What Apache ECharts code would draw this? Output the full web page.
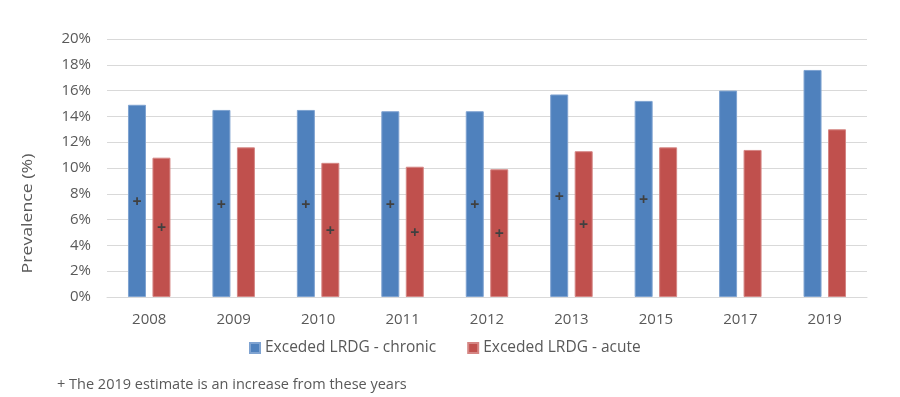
<!DOCTYPE html>
<html>
<head>
<meta charset="utf-8">
<script src="https://cdn.jsdelivr.net/npm/echarts@6/dist/echarts.min.js"></script>
<style>html,body{margin:0;padding:0;background:#fff}#c{width:900px;height:397px}</style>
</head>
<body>
<div id="c"></div>
<script>
const categories = ['2008','2009','2010','2011','2012','2013','2015','2017','2019'];
const chronic = [14.9, 14.5, 14.5, 14.4, 14.4, 15.7, 15.2, 16.0, 17.6];
const acute = [10.8, 11.6, 10.4, 10.1, 9.9, 11.3, 11.6, 11.4, 13.0];
const chronicPlus = [true, true, true, true, true, true, true, false, false];
const acutePlus = [true, false, true, true, true, true, false, false, false];
const yTicks = [0, 2, 4, 6, 8, 10, 12, 14, 16, 18, 20];
const seriesNames = ['Exceded LRDG - chronic', 'Exceded LRDG - acute'];
const footnote = '+ The 2019 estimate is an increase from these years';
const yName = 'Prevalence (%)';

const FONT = '"Open Sans", sans-serif';
const TXT = '#595959';

function withPlus(vals, flags) {
  return vals.map((v, i) => ({
    value: v,
    label: { show: flags[i], position: 'inside', offset: [0, 1.5], formatter: '+', color: '#404040', fontSize: 16, fontWeight: 'bold', fontFamily: FONT }
  }));
}

const chart = echarts.init(document.getElementById('c'), null, { renderer: 'canvas' });
chart.setOption({
  animation: false,
  textStyle: { fontFamily: FONT },
  grid: { left: 107, right: 33, top: 39, bottom: 100 },
  legend: {
    data: seriesNames,
    left: 244,
    top: 335,
    itemWidth: 10,
    itemHeight: 10,
    itemGap: 31,
    icon: 'rect',
    textStyle: { color: TXT, fontSize: 15.5, fontFamily: FONT, padding: [0, 0, 0, 0] }
  },
  xAxis: {
    type: 'category',
    data: categories,
    axisLine: { lineStyle: { color: '#D9D9D9' } },
    axisTick: { show: false },
    axisLabel: { color: TXT, fontSize: 15, margin: 15, fontFamily: FONT }
  },
  yAxis: {
    type: 'value',
    min: yTicks[0],
    max: yTicks[yTicks.length - 1],
    interval: 2,
    axisLine: { show: false },
    axisTick: { show: false },
    splitLine: { lineStyle: { color: '#D9D9D9', width: 1 } },
    axisLabel: { color: TXT, fontSize: 15, margin: 16, formatter: '{value}%', fontFamily: FONT }
  },
  graphic: [
    {
      type: 'text',
      x: 28, y: 213.5,
      rotation: Math.PI / 2,
      scaleX: 1.18,
      style: { text: yName, fill: TXT, fontSize: 15, fontFamily: FONT, align: 'center', verticalAlign: 'middle' }
    },
    {
      type: 'text',
      x: 57, y: 385,
      style: { text: footnote, fill: TXT, fontSize: 14.5, fontFamily: FONT, align: 'left', verticalAlign: 'middle' }
    }
  ],
  series: [
    {
      name: seriesNames[0],
      type: 'bar',
      data: withPlus(chronic, chronicPlus),
      barWidth: 18,
      barGap: '36%',
      itemStyle: { color: '#4F81BD', borderColor: '#7FA3D1', borderWidth: 1 }
    },
    {
      name: seriesNames[1],
      type: 'bar',
      data: withPlus(acute, acutePlus),
      barWidth: 18,
      itemStyle: { color: '#C0504D', borderColor: '#D58684', borderWidth: 1 }
    }
  ]
});
</script>
</body>
</html>
